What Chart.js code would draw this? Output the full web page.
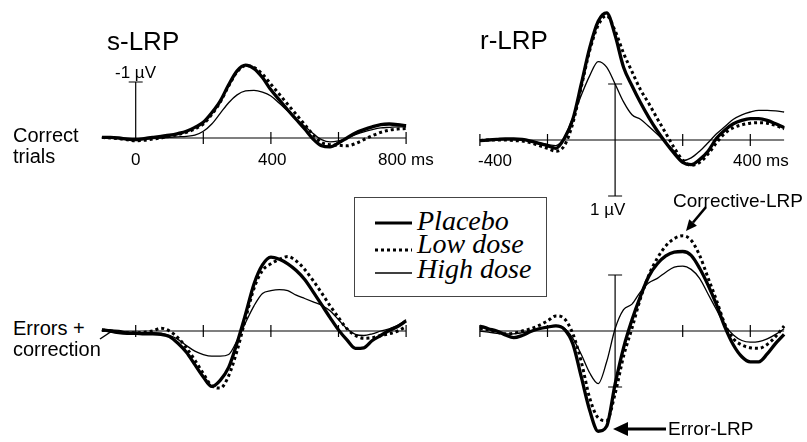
<!DOCTYPE html>
<html lang="en">
<head>
<meta charset="UTF-8">
<title>LRP</title>
<script src="https://cdn.jsdelivr.net/npm/chart.js"></script>
<style>
  body { margin: 0; width: 807px; height: 442px; overflow: hidden; background: #fff; position: relative; }
  canvas { position: absolute; z-index: 1; }
  .t { position: absolute; z-index: 2; font-family: "Liberation Sans", Arial, sans-serif; line-height: 1; white-space: nowrap; color: #000; }
  .legend { position: absolute; z-index: 2; left: 354px; top: 197px; width: 193px; height: 100px; box-sizing: border-box; border: 1px solid #444; background: #fff; }
  .legend span { position: absolute; left: 62px; font-family: "Liberation Serif", "Times New Roman", serif; font-style: italic; font-size: 28px; line-height: 1; white-space: nowrap; }
  svg { position: absolute; left: 0; top: 0; z-index: 3; }
</style>
</head>
<body>

<canvas id="correctS" width="338" height="168" style="left:85px; top:26px"></canvas>
<canvas id="correctR" width="338" height="224" style="left:463px; top:0px"></canvas>
<canvas id="errorS" width="338" height="224" style="left:85px; top:219px"></canvas>
<canvas id="errorR" width="338" height="224" style="left:463px; top:219px"></canvas>

<!-- textos -->
<div class="t" style="left:107px; top:28px; font-size:26px">s-LRP</div>
<div class="t" style="left:480px; top:27px; font-size:26px">r-LRP</div>
<div class="t" style="left:115px; top:64px; font-size:17px">-1 µV</div>
<div class="t" style="left:13px; top:125px; font-size:20px">Correct</div>
<div class="t" style="left:13px; top:146px; font-size:20px">trials</div>
<div class="t" style="left:131px; top:151px; font-size:17px">0</div>
<div class="t" style="left:258px; top:151px; font-size:17px">400</div>
<div class="t" style="left:378px; top:151px; font-size:17px">800 ms</div>
<div class="t" style="left:478px; top:152px; font-size:17px">-400</div>
<div class="t" style="left:733px; top:152px; font-size:17px">400 ms</div>
<div class="t" style="left:590px; top:201px; font-size:17px">1 µV</div>
<div class="t" style="left:673px; top:191px; font-size:19px">Corrective-LRP</div>
<div class="t" style="left:13px; top:318px; font-size:20px">Errors +</div>
<div class="t" style="left:13px; top:339px; font-size:20px">correction</div>
<div class="t" style="left:668px; top:419px; font-size:19px">Error-LRP</div>

<div class="legend">
  <span style="top:9px">Placebo</span>
  <span style="top:32px">Low dose</span>
  <span style="top:57px">High dose</span>
</div>

<svg width="807" height="442">
  <!-- amostras da legenda -->
  <line x1="375" y1="223" x2="412" y2="223" stroke="#000" stroke-width="3.2"/>
  <line x1="375" y1="250" x2="412" y2="250" stroke="#000" stroke-width="3" stroke-dasharray="3 3"/>
  <line x1="375" y1="273" x2="412" y2="273" stroke="#000" stroke-width="1.3"/>
  <!-- setas -->
  <line x1="706" y1="207" x2="693" y2="222.5" stroke="#000" stroke-width="2.6"/>
  <polygon points="686,231 696.9,225.7 689.2,219.3" fill="#000"/>
  <line x1="666" y1="429" x2="626" y2="429" stroke="#000" stroke-width="3"/>
  <polygon points="613,429 628,422 628,436" fill="#000"/>
  <line x1="100" y1="339" x2="112" y2="331" stroke="#000" stroke-width="1.5"/>
</svg>

<script>
// tempos (ms)
const sTimes = [-100, -75, -50, -25, 0, 25, 50, 75, 100, 125, 150, 175, 200, 225, 250, 275, 300, 325, 350, 375, 400, 425, 450, 475, 500, 525, 550, 575, 600, 625, 650, 675, 700, 725, 750, 775, 800];
const rTimes = [-400, -375, -350, -325, -300, -275, -250, -225, -200, -175, -150, -125, -100, -75, -50, -25, 0, 25, 50, 75, 100, 125, 150, 175, 200, 225, 250, 275, 300, 325, 350, 375, 400, 425, 450, 475, 500];

const groups = ['Placebo', 'Low dose', 'High dose'];

// Correct trials, s-LRP (µV)
const correctSPlacebo = [-0.01, -0.01, 0.0, 0.02, 0.03, 0.01, -0.01, -0.03, -0.05, -0.08, -0.12, -0.19, -0.28, -0.45, -0.66, -0.95, -1.2, -1.3, -1.24, -1.08, -0.86, -0.68, -0.5, -0.33, -0.16, 0.02, 0.14, 0.16, 0.09, 0.0, -0.09, -0.15, -0.2, -0.24, -0.25, -0.24, -0.22];
const correctSLow = [-0.01, 0.0, 0.01, 0.03, 0.05, 0.04, 0.02, 0.0, -0.03, -0.06, -0.1, -0.16, -0.25, -0.42, -0.64, -0.93, -1.18, -1.29, -1.26, -1.14, -0.96, -0.78, -0.6, -0.42, -0.24, -0.06, 0.08, 0.12, 0.13, 0.14, 0.1, 0.03, -0.04, -0.1, -0.14, -0.16, -0.17];
const correctSHigh = [-0.01, 0.0, 0.0, 0.02, 0.03, 0.02, 0.01, 0.0, -0.01, -0.02, -0.03, -0.05, -0.12, -0.25, -0.44, -0.63, -0.77, -0.84, -0.85, -0.82, -0.75, -0.62, -0.48, -0.34, -0.21, -0.08, 0.03, 0.07, 0.05, 0.0, -0.06, -0.11, -0.15, -0.18, -0.19, -0.2, -0.2];

// Correct trials, r-LRP
const correctRPlacebo = [0.01, 0.0, -0.01, -0.02, -0.02, -0.01, 0.02, 0.06, 0.1, 0.15, -0.03, -0.37, -1.0, -1.65, -2.12, -2.27, -1.87, -1.3, -0.97, -0.67, -0.4, -0.16, 0.05, 0.24, 0.4, 0.44, 0.35, 0.2, -0.03, -0.18, -0.29, -0.35, -0.38, -0.38, -0.35, -0.29, -0.22];
const correctRLow = [0.01, 0.0, 0.0, 0.0, 0.01, 0.02, 0.05, 0.1, 0.15, 0.2, 0.1, -0.3, -0.95, -1.6, -2.05, -2.22, -1.95, -1.55, -1.22, -0.9, -0.65, -0.38, -0.12, 0.14, 0.36, 0.45, 0.4, 0.25, 0.05, -0.12, -0.22, -0.27, -0.3, -0.31, -0.3, -0.26, -0.2];
const correctRHigh = [0.0, 0.0, -0.01, -0.01, -0.01, 0.0, 0.02, 0.05, 0.08, 0.1, -0.05, -0.4, -0.8, -1.15, -1.4, -1.3, -1.0, -0.68, -0.45, -0.37, -0.24, -0.1, 0.05, 0.2, 0.37, 0.32, 0.2, 0.05, -0.11, -0.24, -0.37, -0.45, -0.5, -0.53, -0.53, -0.52, -0.5];

// Errors + correction, s-LRP
const errorSPlacebo = [-0.02, 0.0, 0.03, 0.04, 0.04, 0.05, 0.05, 0.06, 0.1, 0.22, 0.38, 0.6, 0.82, 0.99, 0.88, 0.65, 0.21, -0.3, -0.84, -1.18, -1.32, -1.28, -1.2, -1.08, -0.92, -0.7, -0.47, -0.24, -0.02, 0.16, 0.31, 0.3, 0.17, 0.08, -0.01, -0.08, -0.18];
const errorSLow = [-0.02, 0.0, 0.02, 0.03, 0.03, 0.02, 0.0, -0.05, 0.0, 0.12, 0.3, 0.52, 0.76, 0.98, 1.02, 0.8, 0.35, -0.22, -0.76, -1.08, -1.2, -1.28, -1.33, -1.25, -1.1, -0.9, -0.68, -0.45, -0.24, -0.04, 0.08, 0.13, 0.12, 0.08, 0.05, 0.0, -0.08];
const errorSHigh = [0.0, -0.02, -0.01, 0.02, 0.03, 0.03, 0.03, 0.04, 0.08, 0.15, 0.26, 0.36, 0.42, 0.45, 0.45, 0.42, 0.17, -0.15, -0.45, -0.67, -0.72, -0.74, -0.72, -0.64, -0.58, -0.52, -0.46, -0.36, -0.2, -0.04, 0.06, 0.08, 0.05, 0.0, -0.04, -0.1, -0.2];

// Errors + correction, r-LRP
const errorRPlacebo = [-0.09, -0.04, 0.0, 0.07, 0.12, 0.08, 0.01, -0.04, -0.07, -0.09, -0.03, 0.23, 0.82, 1.42, 1.79, 1.7, 0.95, 0.3, -0.2, -0.62, -0.98, -1.2, -1.34, -1.41, -1.42, -1.35, -1.12, -0.82, -0.47, -0.07, 0.25, 0.46, 0.55, 0.55, 0.41, 0.22, 0.06];
const errorRLow = [-0.05, -0.02, 0.02, 0.05, 0.04, 0.0, -0.04, -0.1, -0.18, -0.27, -0.22, 0.05, 0.55, 1.2, 1.55, 1.6, 1.12, 0.45, -0.05, -0.58, -1.0, -1.3, -1.52, -1.65, -1.7, -1.62, -1.35, -0.95, -0.55, -0.12, 0.14, 0.25, 0.3, 0.31, 0.24, 0.1, -0.09];
const errorRHigh = [0.0, 0.02, 0.04, 0.05, 0.05, 0.03, 0.0, -0.04, -0.08, -0.1, -0.05, 0.13, 0.42, 0.75, 0.94, 0.55, -0.04, -0.38, -0.48, -0.7, -0.86, -0.94, -1.05, -1.14, -1.16, -1.1, -0.94, -0.66, -0.38, -0.1, 0.07, 0.17, 0.2, 0.19, 0.14, 0.06, -0.04];

// marcas dos eixos
const sTicks = [0, 200, 400, 600, 800];
const rTicks = [-400, -200, 200, 400];

// eixos desenhados no zero, como na figura original
const lrpAxes = {
  id: 'lrpAxes',
  beforeDatasetsDraw(chart, args, opts) {
    const { ctx, scales: { x, y } } = chart;
    const y0 = y.getPixelForValue(0);
    ctx.save();
    ctx.strokeStyle = '#000';
    ctx.lineWidth = 1.2;
    ctx.beginPath();
    ctx.moveTo(x.getPixelForValue(opts.from), y0);
    ctx.lineTo(x.getPixelForValue(opts.to), y0);
    opts.ticks.forEach(t => {
      const px = x.getPixelForValue(t);
      ctx.moveTo(px, y0 - 6);
      ctx.lineTo(px, y0 + 6);
    });
    if (opts.vert) {
      const x0 = x.getPixelForValue(0);
      ctx.moveTo(x0, y.getPixelForValue(opts.vert[0]));
      ctx.lineTo(x0, y.getPixelForValue(opts.vert[1]));
      opts.vertTicks.forEach(v => {
        const py = y.getPixelForValue(v);
        ctx.moveTo(x0 - 7, py);
        ctx.lineTo(x0 + 7, py);
      });
    }
    ctx.stroke();
    ctx.restore();
  }
};

function serie(times, values, i) {
  const styles = [
    { borderWidth: 3.3 },
    { borderWidth: 3, borderDash: [3, 3] },
    { borderWidth: 1.3 }
  ];
  return Object.assign({
    label: groups[i],
    data: times.map((t, k) => ({ x: t, y: values[k] })),
    borderColor: '#000',
    pointRadius: 0,
    fill: false,
    cubicInterpolationMode: 'monotone',
    borderCapStyle: 'butt'
  }, styles[i]);
}

function painel(id, times, series, xMin, xMax, yMin, yMax, axes) {
  new Chart(document.getElementById(id), {
    type: 'line',
    data: { datasets: series.map((v, i) => serie(times, v, i)) },
    options: {
      responsive: false,
      animation: false,
      layout: { padding: 0 },
      plugins: { legend: { display: false }, tooltip: { enabled: false }, lrpAxes: axes },
      scales: {
        x: { type: 'linear', min: xMin, max: xMax, display: false },
        y: { type: 'linear', min: yMin, max: yMax, reverse: true, display: false }
      }
    },
    plugins: [lrpAxes]
  });
}

painel('correctS', sTimes, [correctSPlacebo, correctSLow, correctSHigh], -150, 850, -2, 1,
  { from: -100, to: 800, ticks: sTicks.slice(1), vert: [0, -1], vertTicks: [-1] });
painel('correctR', rTimes, [correctRPlacebo, correctRLow, correctRHigh], -450, 550, -2.5, 1.5,
  { from: -400, to: 500, ticks: rTicks, vert: [-1, 1], vertTicks: [-1, 1] });
painel('errorS', sTimes, [errorSPlacebo, errorSLow, errorSHigh], -150, 850, -2, 2,
  { from: -100, to: 800, ticks: sTicks });
painel('errorR', rTimes, [errorRPlacebo, errorRLow, errorRHigh], -450, 550, -2, 2,
  { from: -400, to: 500, ticks: rTicks, vert: [-1, 1], vertTicks: [-1, 1] });
</script>
</body>
</html>
